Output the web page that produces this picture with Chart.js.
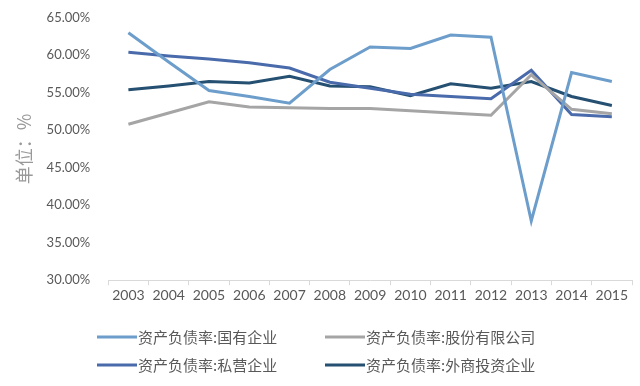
<!DOCTYPE html>
<html>
<head>
<meta charset="utf-8">
<script src="https://cdn.jsdelivr.net/npm/chart.js@4/dist/chart.umd.min.js"></script>
<style>
  html, body { margin: 0; padding: 0; background: #fff; }
  #wrap { width: 640px; height: 386px; position: relative; }
</style>
</head>
<body>
<div id="wrap"><canvas id="line-chart"></canvas></div>
<script>
const years = ["2003","2004","2005","2006","2007","2008","2009","2010","2011","2012","2013","2014","2015"];
const stateOwned = [63.0, 59.1, 55.3, 54.5, 53.6, 58.1, 61.1, 60.9, 62.7, 62.4, 37.9, 57.7, 56.5];
const jointStock = [50.8, 52.3, 53.8, 53.1, 53.0, 52.9, 52.9, 52.6, 52.3, 52.0, 57.4, 52.8, 52.2];
const privateEnt = [60.4, 59.9, 59.5, 59.0, 58.3, 56.4, 55.6, 54.8, 54.5, 54.2, 58.0, 52.1, 51.8];
const foreignEnt = [55.4, 55.9, 56.5, 56.3, 57.2, 55.9, 55.8, 54.6, 56.2, 55.6, 56.5, 54.5, 53.3];
const seriesNames = ["资产负债率:国有企业", "资产负债率:股份有限公司", "资产负债率:私营企业", "资产负债率:外商投资企业"];
const yTicks = [30, 35, 40, 45, 50, 55, 60, 65];

const colors = ["#6d9ecb", "#a5a5a5", "#4a6bab", "#255071"];
const cjk = '"Noto Sans CJK SC", sans-serif';

// legend drawn by hand so the two columns line up like the original
const legendPlugin = {
  id: 'gridLegend',
  afterDraw(chart) {
    const ctx = chart.ctx;
    const cols = [97, 325];
    const rows = [337, 365];
    ctx.save();
    ctx.font = '15px ' + cjk;
    ctx.textBaseline = 'middle';
    chart.data.datasets.forEach(function(ds, i) {
      const x = cols[i % 2];
      const y = rows[Math.floor(i / 2)];
      ctx.strokeStyle = ds.borderColor;
      ctx.lineWidth = 3;
      ctx.beginPath();
      ctx.moveTo(x, y);
      ctx.lineTo(x + 40, y);
      ctx.stroke();
      ctx.fillStyle = '#595959';
      ctx.fillText(ds.label, x + 41, y);
    });
    ctx.restore();
  }
};

let chart = new Chart(document.getElementById("line-chart"), {
  type: 'line',
  data: {
    labels: years,
    datasets: [stateOwned, jointStock, privateEnt, foreignEnt].map(function(vals, i) {
      return {
        label: seriesNames[i],
        data: vals,
        borderColor: colors[i],
        backgroundColor: colors[i],
        borderWidth: 3,
        pointRadius: 0,
        tension: 0,
        fill: false
      };
    })
  },
  options: {
    responsive: true,
    maintainAspectRatio: false,
    animation: false,
    layout: { padding: { top: 3, right: 8, bottom: 80, left: 8 } },
    plugins: {
      legend: { display: false },
      tooltip: { enabled: false }
    },
    scales: {
      x: {
        offset: true,
        grid: { drawOnChartArea: false, drawTicks: true, tickLength: 5, color: '#d9d9d9', offset: true },
        border: { color: '#d9d9d9' },
        ticks: { color: '#595959', font: { family: 'Lato', size: 14 }, padding: 2, maxRotation: 0 }
      },
      y: {
        min: 30,
        max: 65,
        afterBuildTicks: function(axis) {
          axis.ticks = yTicks.map(function(v) { return { value: v }; });
        },
        grid: { display: false },
        border: { display: false },
        title: {
          display: true,
          text: '单位：%',
          color: '#999999',
          font: { family: cjk, size: 18 },
          padding: { top: 5, bottom: 2 }
        },
        ticks: {
          color: '#595959',
          font: { family: 'Lato', size: 13 },
          padding: 10,
          callback: function(v) { return v.toFixed(2) + '%'; }
        }
      }
    }
  },
  plugins: [legendPlugin]
});
</script>
</body>
</html>
